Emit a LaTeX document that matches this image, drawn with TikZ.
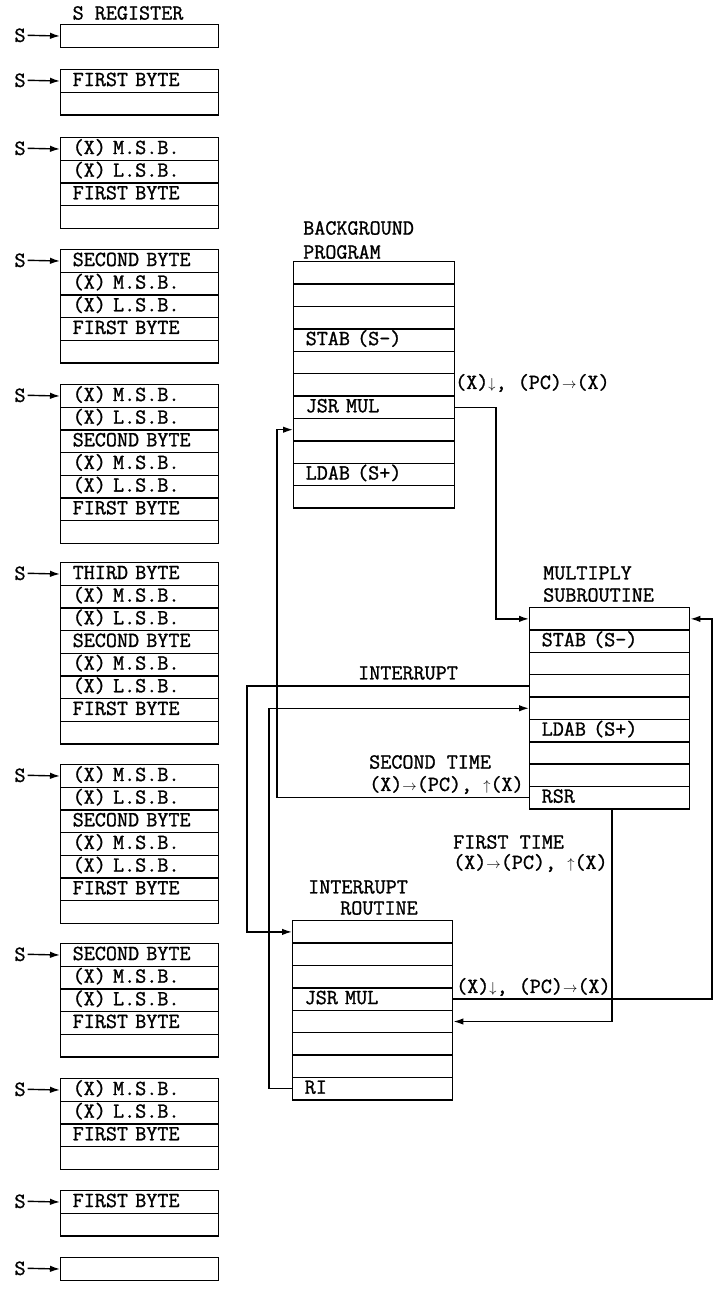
\documentclass[tikz,border=0pt]{standalone}
\usepackage{fontspec}
\setmonofont{Latin Modern Mono}[FakeBold=1.2]
\usetikzlibrary{arrows.meta}
\newcommand\fs{\fontsize{21.5}{23}\selectfont\ttfamily}
\newcommand\mycells[6]{% name, x, top, width, rowheight, list
  \foreach \t [count=\i] in {#6} {%
    \node[cell, minimum width=#4pt, text width=#4pt-24pt, minimum height=#5pt] (#1\i) at (#2, {#3+(\i-1)*#5}) {\t};
  }%
}
\newcommand\mystack[3]{% name, top, list
  \mycells{#1r}{60}{#2}{158}{22.65}{#3}%
  \node[slabel] (#1S) at (20, {#2+11.3}) {S};
  \draw[arr] (#1S.east) -- (#1r1.west);
}
\tikzset{
  cell/.style={draw, line width=1.4pt, anchor=north west, inner xsep=12pt, inner ysep=0pt,
    align=left, font=\fs, text height=14pt, text depth=4pt},
  slabel/.style={inner sep=2pt, font=\fs},
  title/.style={inner sep=0pt, anchor=west, font=\fs},
  arr/.style={line width=1.4pt, -{Latex[length=10pt,width=6.5pt]}},
}
\begin{document}
\begin{tikzpicture}[x=1pt,y=-1pt]
\useasboundingbox (0,0) rectangle (718,1289);
% ---- S register stacks ----
\node[inner sep=0pt, font=\fs] (sreg) at (128,13) {S REGISTER};
\mystack{a}{24}{{}}
\mystack{b}{69}{{FIRST BYTE},{}}
\mystack{c}{137}{{(X) M.S.B.},{(X) L.S.B.},{FIRST BYTE},{}}
\mystack{d}{249}{{SECOND BYTE},{(X) M.S.B.},{(X) L.S.B.},{FIRST BYTE},{}}
\mystack{e}{384}{{(X) M.S.B.},{(X) L.S.B.},{SECOND BYTE},{(X) M.S.B.},{(X) L.S.B.},{FIRST BYTE},{}}
\mystack{f}{562}{{THIRD BYTE},{(X) M.S.B.},{(X) L.S.B.},{SECOND BYTE},{(X) M.S.B.},{(X) L.S.B.},{FIRST BYTE},{}}
\mystack{g}{764}{{(X) M.S.B.},{(X) L.S.B.},{SECOND BYTE},{(X) M.S.B.},{(X) L.S.B.},{FIRST BYTE},{}}
\mystack{h}{943}{{SECOND BYTE},{(X) M.S.B.},{(X) L.S.B.},{FIRST BYTE},{}}
\mystack{i}{1078}{{(X) M.S.B.},{(X) L.S.B.},{FIRST BYTE},{}}
\mystack{j}{1190}{{FIRST BYTE},{}}
\mystack{k}{1257}{{}}
% ---- background program ----
\node[title] (bgt1) at (303,228) {BACKGROUND};
\node[title] (bgt2) at (303,252) {PROGRAM};
\mycells{bg}{293}{261}{161}{22.4}{{},{},{},{STAB (S-)},{},{},{JSR MUL},{},{},{LDAB (S+)},{}}
% ---- multiply subroutine ----
\node[title] (mut1) at (543,573) {MULTIPLY};
\node[title] (mut2) at (543,595) {SUBROUTINE};
\mycells{mu}{529}{607}{160}{22.35}{{},{STAB (S-)},{},{},{},{LDAB (S+)},{},{},{RSR}}
% ---- interrupt routine ----
\node[title] (irt1) at (308,887) {INTERRUPT};
\node[title] (irt2) at (340,908) {ROUTINE};
\mycells{ir}{292}{920}{160}{22.4}{{},{},{},{JSR MUL},{},{},{},{RI}}
% ---- turning points ----
\coordinate (c1) at (496,0);
\coordinate (c2) at (247,0);
\coordinate (c3) at (269,0);
\coordinate (c4) at (277,0);
\coordinate (c5) at (612,0);
\coordinate (c6) at (712,0);
% ---- connectors ----
\draw[arr] (bg7.east) -- (bg7.east -| c1) |- (mu1.west);
\draw[arr] (mu4.west) -- (mu4.west -| c2) |- (ir1.west);
\draw[arr] (ir8.west) -- (ir8.west -| c3) |- (mu5.west);
\draw[arr] (mu9.west) -- (mu9.west -| c4) |- (bg8.west);
\draw[arr] (mu9.south -| c5) |- (ir5.east);
\draw[arr] (ir4.east) -- (ir4.east -| c6) |- (mu1.east);
% ---- connector labels ----
\node[title] (l1) at (455,383) {(X)${\scriptstyle\downarrow}$, (PC)${\scriptstyle\rightarrow}$(X)};
\node[inner sep=0pt, font=\fs] (l2) at (408,673) {INTERRUPT};
\node[title] (l3) at (369,762) {SECOND TIME};
\node[title] (l4) at (369,785) {(X)${\scriptstyle\rightarrow}$(PC), ${\scriptstyle\uparrow}$(X)};
\node[title] (l5) at (453,842) {FIRST TIME};
\node[title] (l6) at (453,863) {(X)${\scriptstyle\rightarrow}$(PC), ${\scriptstyle\uparrow}$(X)};
\node[title] (l7) at (456,987) {(X)${\scriptstyle\downarrow}$, (PC)${\scriptstyle\rightarrow}$(X)};
\end{tikzpicture}
\end{document}
